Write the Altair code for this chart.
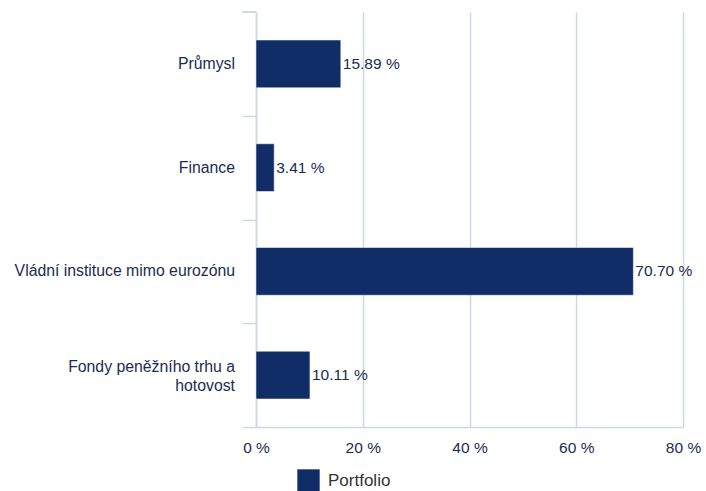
import altair as alt
import pandas as pd

categories = ["Průmysl", "Finance", "Vládní instituce mimo eurozónu", "Fondy peněžního trhu a|hotovost"]
values = [15.89, 3.41, 70.70, 10.11]
series = ["Portfolio"] * 4
x_ticks = [0, 20, 40, 60, 80]

df = pd.DataFrame({"cat": categories, "val": values, "series": series})
df["label"] = df["val"].map(lambda v: f"{v:.2f} %")

FONT = "Liberation Sans"
TEXT = "#1c2b52"
GRID = "#cdd8e6"
BAR = "#112d68"
H = 415
STEP = H / len(categories)

y = alt.Y("cat:N", sort=categories, title=None,
          scale=alt.Scale(paddingInner=0.54, paddingOuter=0.27),
          axis=alt.Axis(tickSize=14, tickColor=GRID, domainColor=GRID, tickOffset=STEP / 2,
                        labels=False, grid=False, tickWidth=1.5, domainWidth=1.5))
x = alt.X("val:Q", title=None,
          scale=alt.Scale(domain=[0, 80], nice=False),
          axis=alt.Axis(values=x_ticks, labelExpr="datum.value + ' %'", grid=True,
                        gridColor=GRID, gridWidth=1.5, ticks=False, domainColor=GRID,
                        domainWidth=1.5, labelPadding=13, labelFont=FONT, labelFontSize=15.5,
                        labelColor=TEXT, labelFlush=False))

base = alt.Chart(df).encode(x=x, y=y)

bars = base.mark_bar(stroke="white", strokeWidth=0.5).encode(
    color=alt.Color("series:N", title=None,
                    scale=alt.Scale(range=[BAR]),
                    legend=alt.Legend(orient="none", legendX=41, legendY=457,
                                      symbolType="square", symbolSize=500,
                                      symbolStrokeWidth=0, labelFont=FONT,
                                      labelFontSize=17, labelColor="#333333",
                                      labelOffset=8)),
)

text = base.mark_text(align="left", baseline="middle", dx=2, font=FONT,
                      fontSize=15.5, color=TEXT).encode(text="label:N")

cat_single = alt.Chart(df).transform_filter("indexof(datum.cat, '|') < 0").mark_text(
    align="right", baseline="middle", font=FONT, fontSize=15.8, color=TEXT).encode(
    x=alt.value(-21), y=y, text="cat:N")

cat_multi = alt.Chart(df).transform_filter("indexof(datum.cat, '|') >= 0").mark_text(
    align="right", baseline="middle", font=FONT, fontSize=15.8, color=TEXT,
    lineBreak="|", lineHeight=19, dy=-8).encode(
    x=alt.value(-21), y=y, text="cat:N")

top_tick = alt.Chart(df).mark_rule(color=GRID, strokeWidth=1.5).encode(
    x=alt.value(-14), x2=alt.value(0), y=alt.value(0))

chart = (bars + text + cat_single + cat_multi + top_tick).properties(
    width=427, height=H,
    autosize=alt.AutoSizeParams(type="none"),
    padding={"left": 256, "top": 12, "right": 23, "bottom": 64},
).configure_view(stroke=None)

chart.save("out.html", embed_options={"renderer": "svg", "actions": False})
